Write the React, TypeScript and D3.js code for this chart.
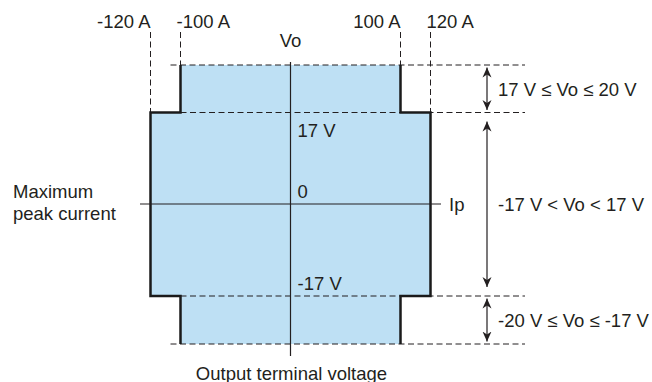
import React, { useEffect, useRef } from "react";
import * as d3 from "d3";

// current (A) tick positions along the Ip axis, voltage levels along Vo
const currentTicks = [-120, -100, 100, 120];
const currentLabels = ["-120 A", "-100 A", "100 A", "120 A"];
const voltageLevels = [20, 17, -17, -20];
const axisLabels = ["17 V", "0", "-17 V"];
const axisLabelValues = [17, 0, -17];

// operating bands: voltage range and max current for each
const bandHigh = [20, 17, -17];
const bandLow = [17, -17, -20];
const bandCurrent = [100, 120, 100];
const bandLabels = ["17 V \u2264 Vo \u2264 20 V", "-17 V < Vo < 17 V", "-20 V \u2264 Vo \u2264 -17 V"];

const W = 652, H = 382;
const FONT = "'Liberation Sans', Arial, Helvetica, sans-serif";
const INK = "#231f20";

export default function App() {
  const svgRef = useRef<SVGSVGElement | null>(null);

  useEffect(() => {
    if (!svgRef.current) return;
    const svg = d3.select(svgRef.current);
    svg.selectAll("*").remove();

    // schematic (piecewise) scales
    const x = d3.scaleLinear()
      .domain([-120, -100, 0, 100, 120])
      .range([150.5, 180.5, 290.5, 400.5, 430.5]);
    const y = d3.scaleLinear()
      .domain([20, 17, 0, -17, -20])
      .range([65, 112.5, 204, 296, 344]);

    const defs = svg.append("defs");
    defs.append("marker")
      .attr("id", "ah")
      .attr("viewBox", "0 0 10 10")
      .attr("refX", 10).attr("refY", 5)
      .attr("markerWidth", 10).attr("markerHeight", 10)
      .attr("markerUnits", "userSpaceOnUse")
      .attr("orient", "auto-start-reverse")
      .append("path")
      .attr("d", "M0,0.5 L10,5 L0,9.5 L3,5 Z")
      .attr("fill", INK);

    // filled region
    const pts: [number, number][] = [];
    bandCurrent.forEach((c, i) => { pts.push([c, bandHigh[i]], [c, bandLow[i]]); });
    for (let i = bandCurrent.length - 1; i >= 0; i--) {
      pts.push([-bandCurrent[i], bandLow[i]], [-bandCurrent[i], bandHigh[i]]);
    }
    const line = d3.line<[number, number]>().x(d => x(d[0])).y(d => y(d[1]));
    svg.append("path")
      .attr("d", line(pts) + "Z")
      .attr("fill", "#bee0f4");

    // dashed guide lines
    const dash = "6,3.5";
    const g = svg.append("g").attr("stroke", INK).attr("stroke-width", 1).attr("stroke-dasharray", dash).attr("fill", "none");
    voltageLevels.forEach(v => {
      const outer = Math.abs(v) === 20;
      g.append("line")
        .attr("x1", outer ? x(-100) - 10 : x(-100)).attr("x2", 525)
        .attr("y1", y(v)).attr("y2", y(v));
    });
    currentTicks.forEach(c => {
      const top = Math.abs(c) === 120 ? y(17) : y(20);
      g.append("line")
        .attr("x1", x(c)).attr("x2", x(c))
        .attr("y1", 32).attr("y2", top);
    });

    // solid outline sides
    const right = pts.slice(0, bandCurrent.length * 2);
    const left = pts.slice(bandCurrent.length * 2);
    [right, left].forEach(side => {
      svg.append("path")
        .attr("d", line(side))
        .attr("fill", "none")
        .attr("stroke", "#1a1a1a")
        .attr("stroke-width", 2.5)
        .attr("stroke-linejoin", "miter");
    });

    // axes
    svg.append("line")
      .attr("x1", x(0)).attr("x2", x(0)).attr("y1", 62).attr("y2", 356)
      .attr("stroke", INK).attr("stroke-width", 1.2);
    svg.append("line")
      .attr("x1", 140).attr("x2", 441).attr("y1", y(0)).attr("y2", y(0))
      .attr("stroke", INK).attr("stroke-width", 1.2);

    const text = (s: string, tx: number, ty: number, anchor = "start") =>
      svg.append("text")
        .attr("x", tx).attr("y", ty)
        .attr("text-anchor", anchor)
        .attr("font-family", FONT).attr("font-size", 18.5)
        .attr("fill", INK)
        .text(s);

    // top current labels
    currentTicks.forEach((c, i) => {
      const outside = c < 0 ? Math.abs(c) === 120 : Math.abs(c) === 100;
      text(currentLabels[i], x(c) + (outside ? 0 : -4), 28, outside ? "end" : "start");
    });

    // voltage labels on axis
    axisLabelValues.forEach((v, i) => {
      const ty = v === 17 ? y(v) + 24 : y(v) - 6;
      text(axisLabels[i], x(0) + 7, ty);
    });

    text("Vo", x(0), 47, "middle");
    text("Ip", 449, 211);
    text("Maximum", 13, 198);
    text("peak current", 13, 220);
    text("Output terminal voltage", x(0) + 1, 379.5, "middle");

    // band arrows and labels
    const ax = 487;
    bandHigh.forEach((hi, i) => {
      const gap = i === 1 ? 9 : 2.5;
      svg.append("line")
        .attr("x1", ax).attr("x2", ax)
        .attr("y1", y(hi) + gap).attr("y2", y(bandLow[i]) - gap)
        .attr("stroke", INK).attr("stroke-width", 1.2)
        .attr("marker-start", "url(#ah)").attr("marker-end", "url(#ah)");
      text(bandLabels[i], ax + 11, (y(hi) + y(bandLow[i])) / 2 + 7);
    });
  }, []);

  return (
    <svg ref={svgRef} width={W} height={H}
      style={{ position: "absolute", left: 0, top: 0, background: "#fff" }} />
  );
}
